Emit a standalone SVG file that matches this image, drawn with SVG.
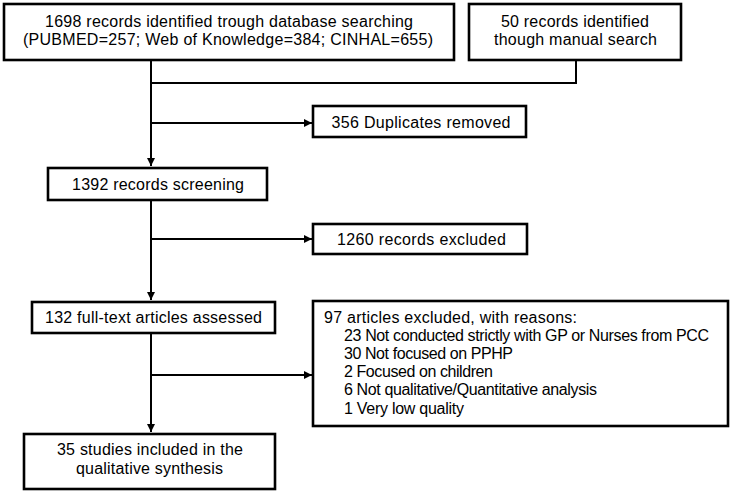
<svg xmlns="http://www.w3.org/2000/svg" width="733" height="494" viewBox="0 0 733 494">
<style>
.box{fill:#fff;stroke:#000;stroke-width:2.6}
.ln{fill:none;stroke:#000;stroke-width:2}
text{font-family:"Liberation Sans",Arial,sans-serif;font-size:16px;fill:#000}
.c{text-anchor:middle}
</style>
<defs>
<marker id="ah" viewBox="0 0 10 10" refX="10" refY="5" markerWidth="8" markerHeight="8" markerUnits="userSpaceOnUse" orient="auto">
<path d="M0,0 L10,5 L0,10 z" fill="#000"/>
</marker>
</defs>
<rect width="733" height="494" fill="#fff"/>
<g id="connectors">
<path class="ln" d="M151,60 V166" marker-end="url(#ah)"/>
<path class="ln" d="M576,60 V83 H151"/>
<path class="ln" d="M151,123 H312" marker-end="url(#ah)"/>
<path class="ln" d="M151,200 V300" marker-end="url(#ah)"/>
<path class="ln" d="M151,239 H312" marker-end="url(#ah)"/>
<path class="ln" d="M151,333 V432" marker-end="url(#ah)"/>
<path class="ln" d="M151,375 H312" marker-end="url(#ah)"/>
</g>
<g id="db">
<rect class="box" x="4" y="4" width="450" height="56"/>
<text class="c" x="229" y="27" textLength="368">1698 records identified trough database searching</text>
<text class="c" x="228" y="45" textLength="410">(PUBMED=257; Web of Knowledge=384; CINHAL=655)</text>
</g>
<g id="manual">
<rect class="box" x="469" y="4" width="212" height="56"/>
<text class="c" x="575" y="27" textLength="148">50 records identified</text>
<text class="c" x="575.5" y="45" textLength="163">though manual search</text>
</g>
<g id="dup">
<rect class="box" x="313" y="106" width="213" height="31"/>
<text class="c" x="421" y="128" textLength="179">356 Duplicates removed</text>
</g>
<g id="screen">
<rect class="box" x="48" y="168" width="219" height="32"/>
<text class="c" x="158" y="190" textLength="172">1392 records screening</text>
</g>
<g id="excl">
<rect class="box" x="313" y="224" width="214" height="30"/>
<text class="c" x="421.5" y="245" textLength="169">1260 records excluded</text>
</g>
<g id="full">
<rect class="box" x="32" y="302" width="243" height="31"/>
<text class="c" x="153.5" y="323" textLength="217">132 full-text articles assessed</text>
</g>
<g id="reasons">
<rect class="box" x="313" y="301" width="415" height="125"/>
<text x="324" y="323" textLength="253">97 articles excluded, with reasons:</text>
<text x="344" y="341" textLength="365">23 Not conducted strictly with GP or Nurses from PCC</text>
<text x="344" y="359" textLength="169">30 Not focused on PPHP</text>
<text x="344" y="377" textLength="149">2 Focused on children</text>
<text x="344" y="395" textLength="253">6 Not qualitative/Quantitative analysis</text>
<text x="344" y="414" textLength="120">1 Very low quality</text>
</g>
<g id="incl">
<rect class="box" x="24" y="434" width="251" height="55"/>
<text class="c" x="150" y="455" textLength="186">35 studies included in the</text>
<text class="c" x="149.5" y="474" textLength="147">qualitative synthesis</text>
</g>
</svg>
